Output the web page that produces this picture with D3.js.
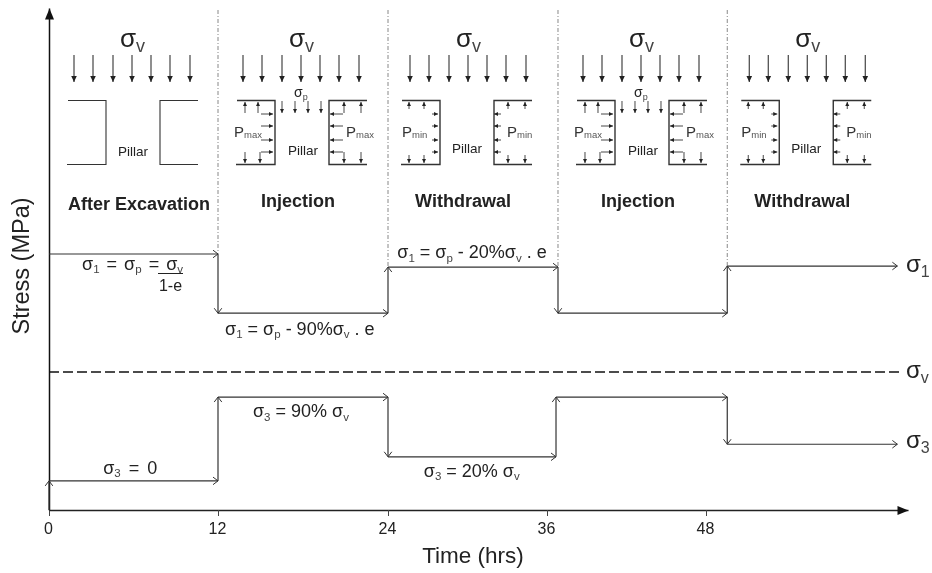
<!DOCTYPE html>
<html>
<head>
  <meta charset="UTF-8">
  <title>Stress cycles in a pillar</title>
  <script src="https://d3js.org/d3.v7.min.js"></script>
  <style>
    body { margin: 0; padding: 0; background: #fff; }
    svg { display: block; filter: blur(0.35px); }
    text { font-family: "Liberation Sans", Arial, sans-serif; fill: #222; }
    .tick text { font-family: "Liberation Sans", Arial, sans-serif; }
  </style>
</head>
<body>

<script>
  const width = 932;
  const height = 573;

  // values; stress has no ticks so it is on a relative 0-100 scale
  const hourTicks = [0, 12, 24, 36, 48];
  const sigma1Times = [0, 12, 24, 36.83, 49.6];
  const sigma1Levels = [51, 39.2, 48.4, 39.2, 48.6];
  const sigma3Times = [0, 12, 24, 36.68, 49.6];
  const sigma3Levels = [5.8, 22.5, 10.6, 22.5, 13.1];
  const sigmaVLevel = 27.5;
  const endTime = 62.4;
  const dashEndTime = 62.6;

  const phaseNames = ["After Excavation", "Injection", "Withdrawal", "Injection", "Withdrawal"];
  const phaseKinds = ["open", "max", "min", "max", "min"];

  const formulas = [
    { text: "σ_1 = σ_p = σ_v", t: 2.35, v: 47.9 },
    { text: "σ_1 = σ_p - 90%σ_v . e", t: 12.5, v: 34.9 },
    { text: "σ_1 = σ_p - 20%σ_v . e", t: 24.7, v: 50.2 },
    { text: "σ_3 = 90% σ_v", t: 14.47, v: 18.5 },
    { text: "σ_3 = 20% σ_v", t: 26.7, v: 6.6 },
    { text: "σ_3 = 0", t: 3.85, v: 7.2 }
  ];
  const endLabels = [
    { text: "σ_1", v: 47.4 },
    { text: "σ_v", v: 26.3 },
    { text: "σ_3", v: 12.35 }
  ];

  const x = d3.scaleLinear()
    .domain([0, 12, 24, 36, 48, 63.2])
    .range([49, 218, 388, 547, 706, 908]);
  const y = d3.scaleLinear().domain([0, 100]).range([510, 8]);

  const ink = "#333";
  const formulaSize = 18;
  const formulaWordGap = [2, 0, 0, 0, 0, 3];

  const svg = d3.select("body")
    .append("svg")
    .attr("width", width)
    .attr("height", height);

  const defs = svg.append("defs");

  function solidHead(id, len, half, color) {
    defs.append("marker")
      .attr("id", id)
      .attr("markerUnits", "userSpaceOnUse")
      .attr("orient", "auto")
      .attr("markerWidth", len + 2)
      .attr("markerHeight", half * 2 + 2)
      .attr("viewBox", `${-len - 1} ${-half - 1} ${len + 2} ${half * 2 + 2}`)
      .attr("refX", 0)
      .attr("refY", 0)
      .append("path")
      .attr("d", `M${-len},${-half}L0,0L${-len},${half}Z`)
      .attr("fill", color);
  }
  solidHead("axisHead", 11, 4.5, "#111");
  solidHead("bigHead", 6, 2.8, "#222");
  solidHead("smallHead", 4, 2, "#222");

  defs.append("marker")
    .attr("id", "openHead")
    .attr("markerUnits", "userSpaceOnUse")
    .attr("orient", "auto")
    .attr("markerWidth", 10)
    .attr("markerHeight", 12)
    .attr("viewBox", "-8 -6 10 12")
    .append("path")
    .attr("d", "M-5,-3.8L0,0L-5,3.8")
    .attr("fill", "none")
    .attr("stroke", ink)
    .attr("stroke-width", 1);

  // subscripts are written as _x in the strings
  function richText(sel, str, size, subSize) {
    const parts = str.split(/_(\w)/);
    parts.forEach((p, i) => {
      if (!p) return;
      const isSub = i % 2 === 1;
      sel.append("tspan")
        .attr("font-size", isSub ? subSize : size)
        .attr("dy", isSub ? size * 0.2 : (i > 0 ? -size * 0.2 : 0))
        .attr("fill", isSub ? "#444" : "#222")
        .text(p);
    });
  }

  // phase dividers, running down to the sigma 1 step
  svg.selectAll(".divider")
    .data(sigma1Times.slice(1).map((t, i) => ({ t, v: Math.max(sigma1Levels[i], sigma1Levels[i + 1]) })))
    .enter().append("line")
    .attr("class", "divider")
    .attr("x1", d => x(d.t))
    .attr("x2", d => x(d.t))
    .attr("y1", 10)
    .attr("y2", d => y(d.v))
    .attr("stroke", "#888")
    .attr("stroke-dasharray", "4 2 1 2");

  // axes
  const xAxis = svg.append("g")
    .attr("transform", `translate(0,${y(0)})`)
    .call(d3.axisBottom(x).tickValues(hourTicks).tickSize(6).tickSizeOuter(0).tickPadding(7));
  xAxis.select(".domain")
    .attr("stroke", "#222")
    .attr("stroke-width", 1.5)
    .attr("marker-end", "url(#axisHead)");
  xAxis.selectAll(".tick line").attr("stroke", "#444");
  xAxis.selectAll(".tick text").attr("font-size", 16).attr("fill", "#222").attr("dx", -1);

  const yAxis = svg.append("g")
    .attr("transform", `translate(${x(0)},0)`)
    .call(d3.axisLeft(y).tickValues([]).tickSizeOuter(0));
  yAxis.select(".domain")
    .attr("stroke", "#111")
    .attr("stroke-width", 1.5)
    .attr("marker-end", "url(#axisHead)");

  svg.append("text")
    .attr("x", 473)
    .attr("y", 563)
    .attr("text-anchor", "middle")
    .attr("font-size", 22.5)
    .text("Time (hrs)");

  svg.append("text")
    .attr("transform", "translate(29,266) rotate(-90)")
    .attr("text-anchor", "middle")
    .attr("font-size", 23.5)
    .text("Stress (MPa)");

  // stepped stress paths, each piece ends in an open arrow head
  function stepSegments(times, levels, startFromAxis) {
    const segs = [];
    if (startFromAxis) segs.push({ t0: times[0], v0: 0, t1: times[0], v1: levels[0] });
    times.forEach((t, i) => {
      const next = i < times.length - 1 ? times[i + 1] : endTime;
      segs.push({ t0: t, v0: levels[i], t1: next, v1: levels[i] });
      if (i < times.length - 1) segs.push({ t0: next, v0: levels[i], t1: next, v1: levels[i + 1] });
    });
    return segs;
  }

  svg.selectAll(".step")
    .data(stepSegments(sigma1Times, sigma1Levels, false).concat(stepSegments(sigma3Times, sigma3Levels, true)))
    .enter().append("line")
    .attr("class", "step")
    .attr("x1", d => x(d.t0))
    .attr("y1", d => y(d.v0))
    .attr("x2", d => x(d.t1))
    .attr("y2", d => y(d.v1))
    .attr("stroke", ink)
    .attr("stroke-width", 1.2)
    .attr("marker-end", "url(#openHead)");

  // vertical stress level
  svg.append("line")
    .attr("x1", x(0))
    .attr("x2", x(dashEndTime))
    .attr("y1", y(sigmaVLevel))
    .attr("y2", y(sigmaVLevel))
    .attr("stroke", "#111")
    .attr("stroke-width", 1.4)
    .attr("stroke-dasharray", "10 4");

  // formulas along the steps
  formulas.forEach((f, i) => {
    svg.append("text")
      .attr("x", x(f.t))
      .attr("y", y(f.v))
      .attr("word-spacing", formulaWordGap[i])
      .call(richText, f.text, formulaSize, formulaSize * 0.64);
  });

  // the fraction under the first formula
  svg.append("line")
    .attr("x1", 158).attr("x2", 183)
    .attr("y1", 273.5).attr("y2", 273.5)
    .attr("stroke", "#222");
  svg.append("text")
    .attr("x", 170.5)
    .attr("y", 291)
    .attr("text-anchor", "middle")
    .attr("font-size", 16)
    .text("1-e");

  endLabels.forEach(l => {
    svg.append("text")
      .attr("x", 906)
      .attr("y", y(l.v))
      .call(richText, l.text, 24, 16);
  });

  // pillar sketches, one per phase, laid out from the start of the phase
  const loadOffsets = [25, 44, 64, 83, 102, 121, 141];
  const sketch = {
    open: { shift: 0, wallShift: 0, title: 90, pillar: 84, pillarY: 156 },
    max: { shift: 0, wallShift: 0, title: 80, pillar: 85, pillarY: 155,
      vert: [[27, 40], [27, 42], [126, 143]], hl: [43, 55], hr: [125, 112],
      topLen: 11, botLen: 11, labelL: 16, labelR: 128 },
    min: { shift: -3, wallShift: -5, title: 75, pillar: 79, pillarY: 153,
      vert: [[21, 36], [21, 36], [120, 137]], hl: [44, 50], hr: [113, 106],
      topLen: 7, botLen: 8, labelL: 14, labelR: 119 }
  };

  function arrow(g, x1, y1, x2, y2, head, w) {
    g.append("line")
      .attr("x1", x1).attr("y1", y1)
      .attr("x2", x2).attr("y2", y2)
      .attr("stroke", "#333")
      .attr("stroke-width", w)
      .attr("marker-end", `url(#${head})`);
  }

  const panels = svg.selectAll(".panel")
    .data(phaseKinds.map((kind, i) => ({ kind, name: phaseNames[i], t: sigma1Times[i] })))
    .enter().append("g")
    .attr("class", "panel")
    .attr("transform", d => `translate(${x(d.t)},0)`);

  panels.each(function(d) {
    const g = d3.select(this);
    const s = sketch[d.kind];

    g.append("text")
      .attr("x", 71 + s.shift)
      .attr("y", 47)
      .call(richText, "σ_v", 26, 18);

    loadOffsets.forEach(o => arrow(g, o + s.shift, 55, o + s.shift, 82, "bigHead", 1.1));

    // excavation walls
    const w = s.wallShift;
    const wallPath = `M${19 + w},100.5H${57 + w}V164.5H${18 + w}M${149 + w},100.5H${111 + w}V164.5H${149 + w}`;
    g.append("path")
      .attr("d", wallPath)
      .attr("fill", "none")
      .attr("stroke", "#333")
      .attr("stroke-width", d.kind === "open" ? 1.1 : 1.4);

    g.append("text")
      .attr("x", s.pillar)
      .attr("y", s.pillarY)
      .attr("text-anchor", "middle")
      .attr("font-size", 13.5)
      .attr("fill", "#444")
      .text("Pillar");

    g.append("text")
      .attr("x", s.title)
      .attr("y", d.kind === "open" ? 210 : 207)
      .attr("text-anchor", "middle")
      .attr("font-size", 18)
      .attr("font-weight", "bold")
      .attr("fill", "#111")
      .text(d.name);

    if (d.kind === "open") return;

    // fluid pressure on the cavern walls
    s.vert[0].forEach(o => arrow(g, o, 102 + s.topLen, o, 102, "smallHead", 0.9));
    s.vert[1].forEach(o => arrow(g, o, 163 - s.botLen, o, 163, "smallHead", 0.9));
    s.vert[2].forEach(o => {
      arrow(g, o, 102 + s.topLen, o, 102, "smallHead", 0.9);
      arrow(g, o, 163 - s.botLen, o, 163, "smallHead", 0.9);
    });
    [114, 126, 140, 152].forEach(py => {
      arrow(g, s.hl[0], py, s.hl[1], py, "smallHead", 0.9);
      arrow(g, s.hr[0], py, s.hr[1], py, "smallHead", 0.9);
    });

    const pLabel = d.kind === "max" ? "max" : "min";
    [s.labelL, s.labelR].forEach(px => {
      const t = g.append("text").attr("x", px).attr("y", 137).attr("font-size", 15);
      t.append("tspan").text("P").attr("fill", "#333");
      t.append("tspan").text(pLabel).attr("font-size", 9.5).attr("dy", 1).attr("fill", "#555");
    });

    if (d.kind === "max") {
      g.append("text")
        .attr("x", 76)
        .attr("y", 97)
        .call(richText, "σ_p", 14, 9);
      [64, 77, 90, 103].forEach(o => arrow(g, o, 101, o, 113, "smallHead", 0.9));
    }
  });
</script>

</body>
</html>
